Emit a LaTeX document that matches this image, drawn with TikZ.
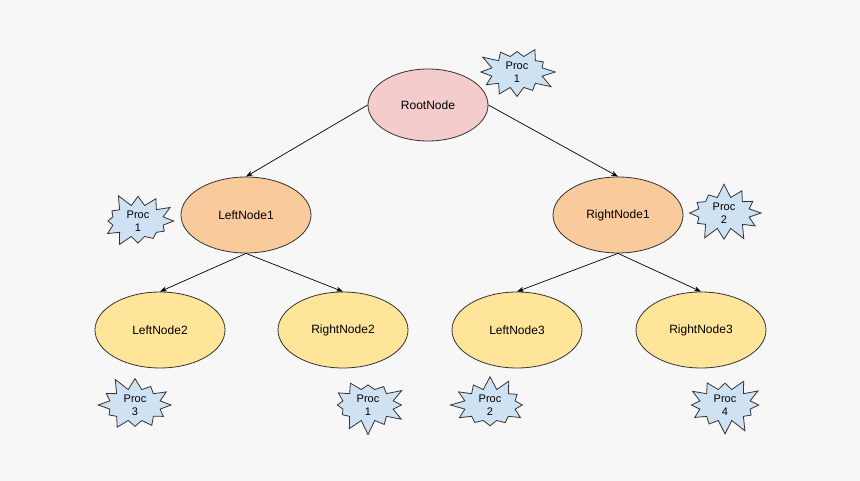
\documentclass[tikz,border=0pt]{standalone}
\usepackage{fontspec}
\setmainfont{Liberation Sans}
\usetikzlibrary{shapes.symbols,shapes.geometric,arrows.meta}
\definecolor{bg}{HTML}{F7F7F7}
\definecolor{pinkf}{HTML}{F4CCCC}
\definecolor{orangef}{HTML}{F9CB9C}
\definecolor{yellowf}{HTML}{FFE599}
\definecolor{bluef}{HTML}{CFE2F3}
\begin{document}
\begin{tikzpicture}[x=1pt,y=-1pt,
  el/.style={ellipse,draw=black!80,line width=0.8pt,minimum width=130pt,minimum height=76pt,font=\fontsize{12}{14}\selectfont},
  burst/.style={starburst,starburst points=12,starburst point height=14pt,draw=black!80,fill=bluef,line width=0.8pt,minimum width=80pt,minimum height=60pt,inner sep=0pt,align=center,font=\fontsize{11}{13}\selectfont,random starburst=#1},
  edge/.style={-{Stealth[length=7pt,width=5pt]},line width=0.7pt}]
\fill[bg] (0,0) rectangle (860,481);
\node[el,fill=pinkf,minimum width=120pt,minimum height=72pt] (root) at (428,105) {RootNode};
\node[el,fill=orangef] (l1) at (246,215) {LeftNode1};
\node[el,fill=orangef] (r1) at (618,215) {RightNode1};
\node[el,fill=yellowf] (l2) at (160,330) {LeftNode2};
\node[el,fill=yellowf] (r2) at (343,330) {RightNode2};
\node[el,fill=yellowf] (l3) at (517,330) {LeftNode3};
\node[el,fill=yellowf] (r3) at (701,330) {RightNode3};
\node[burst=3] (b1) at (517,72) {Proc\\1};
\node[burst=5] (b2) at (138,221) {Proc\\1};
\node[burst=7] (b3) at (724,213) {Proc\\2};
\node[burst=11] (b4) at (135,405) {Proc\\3};
\node[burst=13] (b5) at (368,405) {Proc\\1};
\node[burst=17] (b6) at (490,405) {Proc\\2};
\node[burst=19] (b7) at (725,405) {Proc\\4};
\draw[edge] (root.west) -- (l1.north);
\draw[edge] (root.east) -- (r1.north);
\draw[edge] (l1.south) -- (l2.north);
\draw[edge] (l1.south) -- (r2.north);
\draw[edge] (r1.south) -- (l3.north);
\draw[edge] (r1.south) -- (r3.north);
\end{tikzpicture}
\end{document}
